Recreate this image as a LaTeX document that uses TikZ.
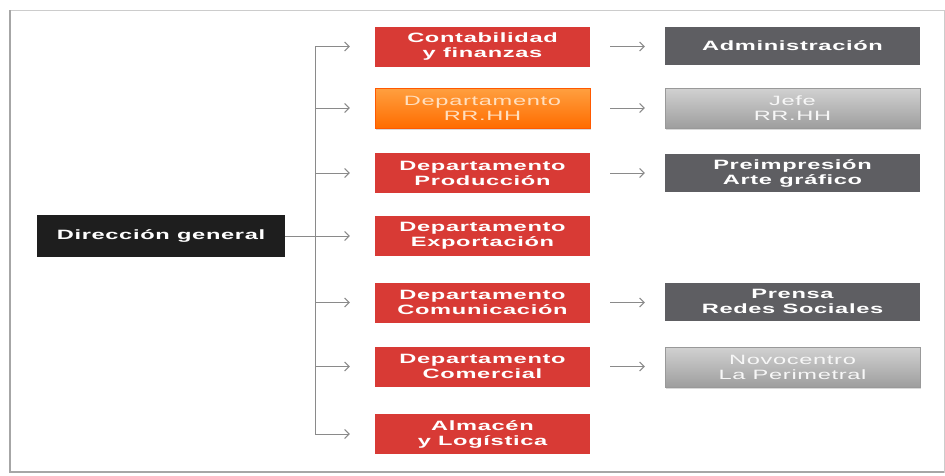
\documentclass[tikz,border=0pt]{standalone}
\usepackage{fontspec}
\newfontfamily\orgfont[FakeStretch=1.75,LetterSpace=5]{Liberation Sans}
\usetikzlibrary{arrows.meta,shadows}
\definecolor{rojo}{HTML}{D83A35}
\definecolor{grisosc}{HTML}{5E5E62}
\definecolor{negro}{HTML}{1E1E1E}
\definecolor{linea}{HTML}{8A8A8A}
\tikzset{
  caja/.style={align=center,inner sep=0pt,
               font=\orgfont\bfseries\fontsize{13.5}{15}\selectfont,text=white},
  cajanegra/.style={caja,fill=negro,minimum width=248pt,minimum height=42pt},
  cajaroja/.style={caja,fill=rojo,minimum width=215pt,minimum height=40pt},
  cajanaranja/.style={caja,top color=orange!75!white,bottom color=orange!85!red,
                      draw=orange!70!red,text=orange!25!white,
                      font=\orgfont\fontsize{13.5}{15}\selectfont,
                      drop shadow={opacity=0.3,shadow xshift=0.5pt,shadow yshift=-1.5pt},
                      minimum width=215pt,minimum height=40pt},
  cajagris/.style={caja,fill=grisosc,minimum width=255pt,minimum height=38pt},
  cajaclara/.style={caja,top color=black!18,bottom color=black!38,draw=black!40,
                    text=black!3,font=\orgfont\fontsize{13.5}{15}\selectfont,
                    drop shadow={opacity=0.3,shadow xshift=0.5pt,shadow yshift=-1.5pt},
                    minimum width=255pt,minimum height=40pt},
  flecha/.style={-{Straight Barb[length=4.5pt,width=9pt]},line width=1pt,linea},
}

\begin{document}
\begin{tikzpicture}[x=1pt,y=-1pt]

  \useasboundingbox (0,0) rectangle (945,475);

  % ---------- MARCO ----------
  \draw[black!20,line width=1pt] (10,10) rectangle (944,472);
  \draw[black!35,line width=1.2pt] (10,10) -- (10,472) -- (944,472);

  % ---------- DIRECCION ----------
  \node[cajanegra] (dir) at (161,236) {Dirección general};

  % ---------- DEPARTAMENTOS ----------
  \node[cajaroja]    (dconta) at (482.5,46.5) {Contabilidad\\y finanzas};
  \node[cajanaranja] (drrhh)  at (482.5,108)  {Departamento\\RR.HH};
  \node[cajaroja]    (dprod)  at (482.5,173)  {Departamento\\Producción};
  \node[cajaroja]    (dexpo)  at (482.5,236)  {Departamento\\Exportación};
  \node[cajaroja]    (dcomu)  at (482.5,302.5) {Departamento\\Comunicación};
  \node[cajaroja]    (dcome)  at (482.5,366.5) {Departamento\\Comercial};
  \node[cajaroja]    (dalma)  at (482.5,434)  {Almacén\\y Logística};

  % ---------- AREAS ----------
  \node[cajagris]  (aadmi) at (792.5,46)    {Administración};
  \node[cajaclara] (ajefe) at (792.5,108)   {Jefe\\RR.HH};
  \node[cajagris]  (apre)  at (792.5,173)   {Preimpresión\\Arte gráfico};
  \node[cajagris]  (apren) at (792.5,301.5) {Prensa\\Redes Sociales};
  \node[cajaclara] (anovo) at (792.5,367)   {Novocentro\\La Perimetral};

  % ---------- TRONCO ----------
  \coordinate (t1) at (315,46.5);
  \coordinate (t2) at (315,108);
  \coordinate (t3) at (315,173);
  \coordinate (t5) at (315,302.5);
  \coordinate (t6) at (315,366.5);
  \coordinate (t7) at (315,434);
  \draw[linea,line width=1pt] (t1) -- (t7);

  % ---------- FLECHAS ----------
  \draw[flecha,shorten >=25pt] (t1)  -- (dconta);
  \draw[flecha,shorten >=25pt] (t2)  -- (drrhh);
  \draw[flecha,shorten >=25pt] (t3)  -- (dprod);
  \draw[flecha,shorten >=25pt] (dir) -- (dexpo);
  \draw[flecha,shorten >=25pt] (t5)  -- (dcomu);
  \draw[flecha,shorten >=25pt] (t6)  -- (dcome);
  \draw[flecha,shorten >=25pt] (t7)  -- (dalma);

  \draw[flecha,shorten <=20pt,shorten >=20pt] (dconta) -- (dconta -| aadmi.west);
  \draw[flecha,shorten <=20pt,shorten >=20pt] (drrhh)  -- (ajefe);
  \draw[flecha,shorten <=20pt,shorten >=20pt] (dprod)  -- (apre);
  \draw[flecha,shorten <=20pt,shorten >=20pt] (dcomu)  -- (dcomu -| apren.west);
  \draw[flecha,shorten <=20pt,shorten >=20pt] (dcome)  -- (dcome -| anovo.west);

\end{tikzpicture}
\end{document}
